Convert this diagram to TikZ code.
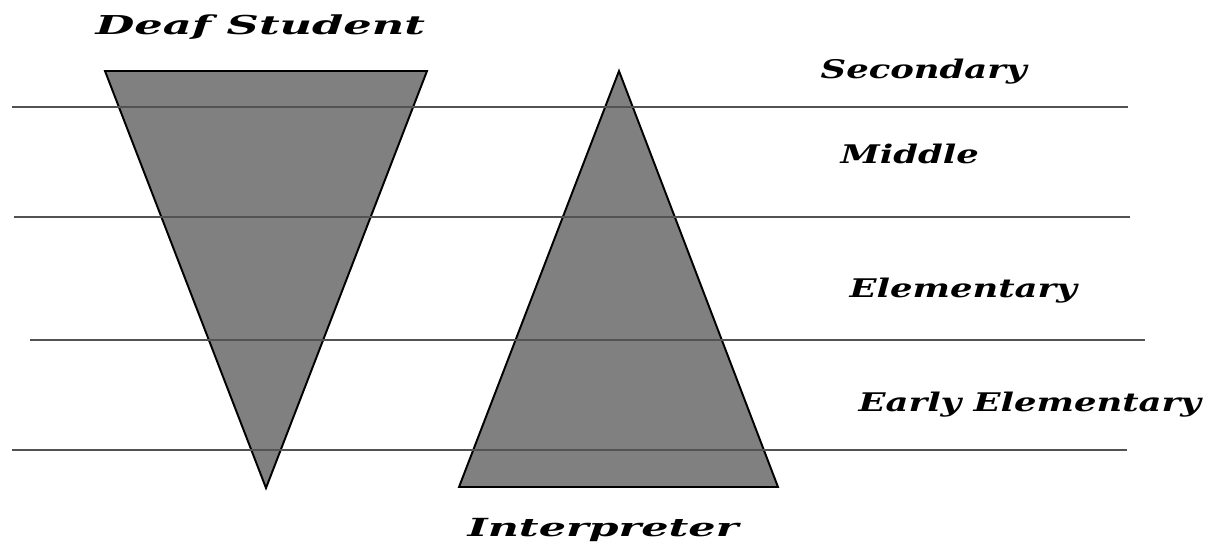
\documentclass[tikz,border=0pt]{standalone}
\usepackage{fontspec}
\newfontfamily\labelfont[FakeStretch=1.38]{DejaVu Serif}
\newfontfamily\titlefont[FakeStretch=1.72]{DejaVu Serif}
\begin{document}
\begin{tikzpicture}[x=0.1mm,y=-0.1mm,
	wedge/.style={draw=black, fill=gray, line width=0.55pt, line join=miter},
	level/.style={draw=black!68, line width=0.65pt},
	caption/.style={font=\labelfont\bfseries\itshape\fontsize{7.3}{8}\selectfont, inner sep=0pt, anchor=base west},
	title/.style={caption, font=\titlefont\bfseries\itshape\fontsize{7.4}{8}\selectfont}]
	\useasboundingbox (0,0) rectangle (1211,544);

	% the two triangles
	\filldraw[wedge] (105,71) -- (427,71) -- (266,488) -- cycle;
	\filldraw[wedge] (619,71) -- (778,487) -- (459,487) -- cycle;

	% school levels
	\draw[level] (12,107) -- (1128,107);
	\draw[level] (14,217) -- (1130,217);
	\draw[level] (30,340) -- (1145,340);
	\draw[level] (12,450) -- (1127,450);

	\node[title] (student) at ( 95, 34) {Deaf Student};
	\node[title, font=\titlefont\bfseries\itshape\fontsize{7.1}{8}\selectfont] (interp) at (467,536) {Interpreter};

	\node[caption] (sec) at (820, 78) {Secondary};
	\node[caption] (mid) at (840,163) {Middle};
	\node[caption] (elem) at (849,297) {Elementary};
	\node[caption] (early) at (858,411) {Early Elementary};
\end{tikzpicture}
\end{document}
